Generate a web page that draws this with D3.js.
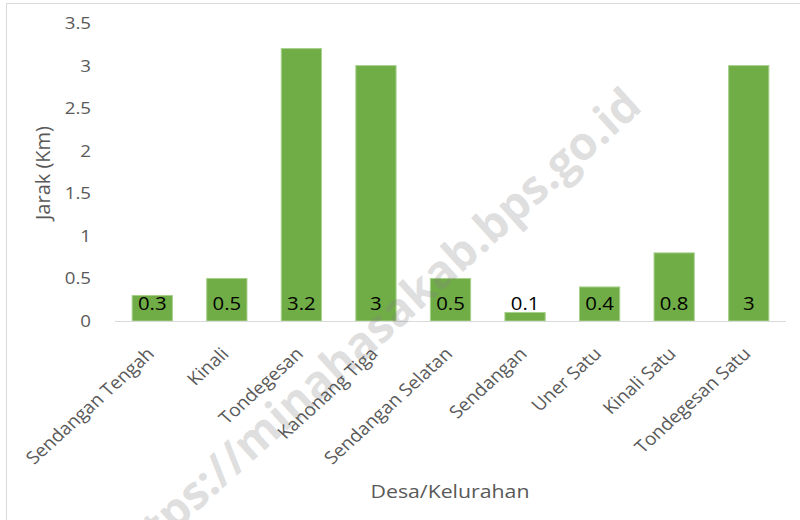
<!DOCTYPE html>
<meta charset="utf-8">
<html>
<head>
    <title>Jarak Desa/Kelurahan</title>
    <script src="https://d3js.org/d3.v7.min.js"></script>
</head>
<style>
    body { margin: 0; background: white; }
    text { font-family: "Open Sans", sans-serif; }
</style>
<body>
<div id="chart"></div>
<script>

// data
const desa = ["Sendangan Tengah", "Kinali", "Tondegesan", "Kanonang Tiga", "Sendangan Selatan",
              "Sendangan", "Uner Satu", "Kinali Satu", "Tondegesan Satu"];
const jarak = [0.3, 0.5, 3.2, 3, 0.5, 0.1, 0.4, 0.8, 3];
const yTicks = [0, 0.5, 1, 1.5, 2, 2.5, 3, 3.5];

const W = 800, H = 520;
const plotL = 115, plotR = 786, plotT = 23, plotB = 321;
const stretch = 1.1;   // the source picture is a bit wider than tall

const svg = d3.select("#chart").append("svg")
    .attr("width", W)
    .attr("height", H);

// chart frame (only left and top are inside the picture)
svg.append("rect")
    .attr("x", 6.5).attr("y", 3.5)
    .attr("width", W).attr("height", H)
    .attr("fill", "white")
    .attr("stroke", "#d9d9d9");

const x = d3.scaleBand()
    .domain(desa)
    .range([plotL, plotR])
    .paddingInner(0.46)
    .paddingOuter(0.23);

const y = d3.scaleLinear()
    .domain([0, 3.5])
    .range([plotB, plotT]);

// y tick labels, no axis line
svg.selectAll(".ytick")
    .data(yTicks)
    .enter()
    .append("text")
    .attr("class", "ytick")
    .attr("transform", d => "translate(" + (plotL - 24) + "," + y(d) + ") scale(" + stretch + ",1)")
    .attr("dy", "0.35em")
    .attr("text-anchor", "end")
    .attr("font-size", 17)
    .attr("fill", "#595959")
    .text(d => d);

// bars
svg.selectAll(".bar")
    .data(desa)
    .enter()
    .append("rect")
    .attr("class", "bar")
    .attr("x", d => x(d))
    .attr("width", x.bandwidth())
    .attr("y", (d, i) => y(jarak[i]))
    .attr("height", (d, i) => y(0) - y(jarak[i]))
    .attr("fill", "#70ad47")
    .attr("stroke", "#a9d18e")
    .attr("stroke-width", 1);

// x axis line
const xAxis = svg.append("g")
    .attr("transform", "translate(0," + plotB + ")")
    .call(d3.axisBottom(x).tickSize(0).tickFormat(""));
xAxis.select(".domain").attr("stroke", "#d9d9d9").attr("d", "M" + plotL + ",0.5H" + plotR);

// watermark
svg.append("text")
    .attr("transform", "translate(644,109) rotate(-42)")
    .attr("text-anchor", "end")
    .attr("font-family", "Open Sans")
    .attr("font-weight", "bold")
    .attr("font-size", 46)
    .attr("fill", "rgba(128,128,128,0.26)")
    .text("https://minahasakab.bps.go.id");

// value labels, inside base
svg.selectAll(".val")
    .data(desa)
    .enter()
    .append("text")
    .attr("class", "val")
    .attr("transform", d => "translate(" + (x(d) + x.bandwidth() / 2) + "," + (y(0) - 11) + ") scale(" + stretch + ",1)")
    .attr("text-anchor", "middle")
    .attr("font-size", 18.5)
    .attr("fill", "#000")
    .text((d, i) => jarak[i]);

// category labels rotated
svg.selectAll(".cat")
    .data(desa)
    .enter()
    .append("text")
    .attr("class", "cat")
    .attr("transform", d => "translate(" + (x(d) + x.bandwidth() / 2 + 3) + "," + (plotB + 34) + ") scale(" + stretch + ",1) rotate(-45)")
    .attr("text-anchor", "end")
    .attr("font-size", 17.5)
    .attr("fill", "#595959")
    .text(d => d);

// axis titles
svg.append("text")
    .attr("transform", "translate(450,498) scale(1.15,1)")
    .attr("text-anchor", "middle")
    .attr("font-size", 18.5)
    .attr("fill", "#595959")
    .text("Desa/Kelurahan");

svg.append("text")
    .attr("transform", "translate(50,173) rotate(-90)")
    .attr("text-anchor", "middle")
    .attr("font-size", 20)
    .attr("fill", "#595959")
    .text("Jarak (Km)");

</script>
</body>
</html>
